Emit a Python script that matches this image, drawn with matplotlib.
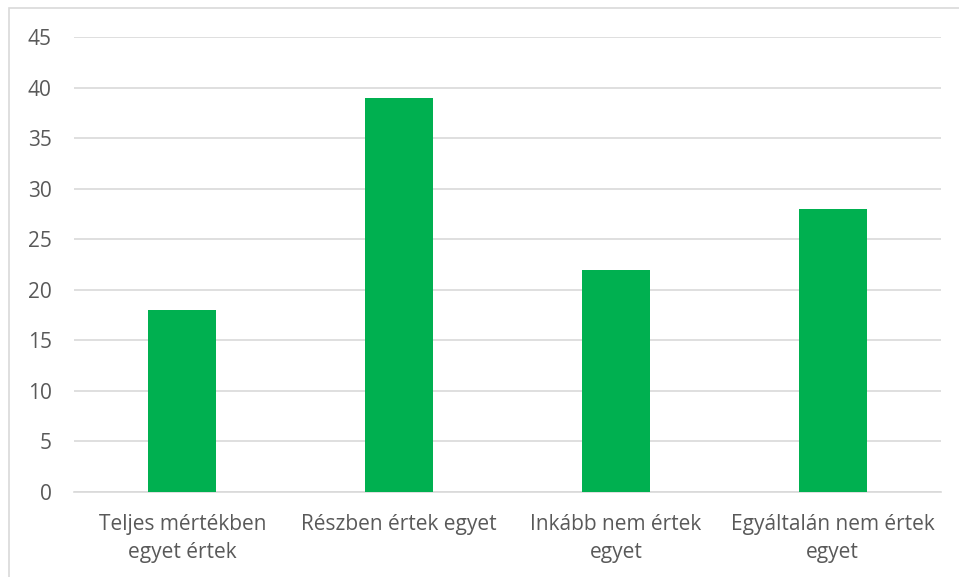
import matplotlib.pyplot as plt
from matplotlib.patches import Rectangle

categories = ["Teljes mértékben\negyet értek", "Részben értek egyet",
              "Inkább nem értek\negyet", "Egyáltalán nem értek\negyet"]
values = [18, 39, 22, 28]
yticks = [0, 5, 10, 15, 20, 25, 30, 35, 40, 45]

plt.rcParams['font.family'] = ['Open Sans', 'DejaVu Sans']
text_color = '#595959'
grid_color = '#D9D9D9'

fig = plt.figure(figsize=(9.59, 5.77), dpi=100)
fig.patch.set_facecolor('white')
# chart frame
fig.patches.append(Rectangle((9 / 959, -0.1), 1.2, 1 - 8 / 577 + 0.1,
                             transform=fig.transFigure, fill=False,
                             edgecolor=grid_color, linewidth=1.2))

ax = fig.add_axes([74 / 959, 1 - 492 / 577, (941 - 74) / 959, (492 - 37) / 577])
x = range(len(categories))
ax.bar(x, values, width=0.314, color='#00B050', zorder=3)
ax.set_xlim(-0.5, len(categories) - 0.5)
ax.set_ylim(0, 45)
ax.set_yticks(yticks)
ax.set_xticks(list(x))
ax.set_xticklabels(categories, linespacing=1.45)
ax.tick_params(axis='both', length=0, labelsize=15, colors=text_color)
ax.tick_params(axis='y', pad=16)
ax.tick_params(axis='x', pad=16)
for lab in ax.get_yticklabels():
    lab.set_horizontalalignment('right')
ax.grid(axis='y', color=grid_color, linewidth=1.2, zorder=0)
for s in ['top', 'right', 'left']:
    ax.spines[s].set_visible(False)
ax.spines['bottom'].set_color(grid_color)
ax.spines['bottom'].set_linewidth(1.2)

fig.savefig('out.png', dpi=100, facecolor='white')
